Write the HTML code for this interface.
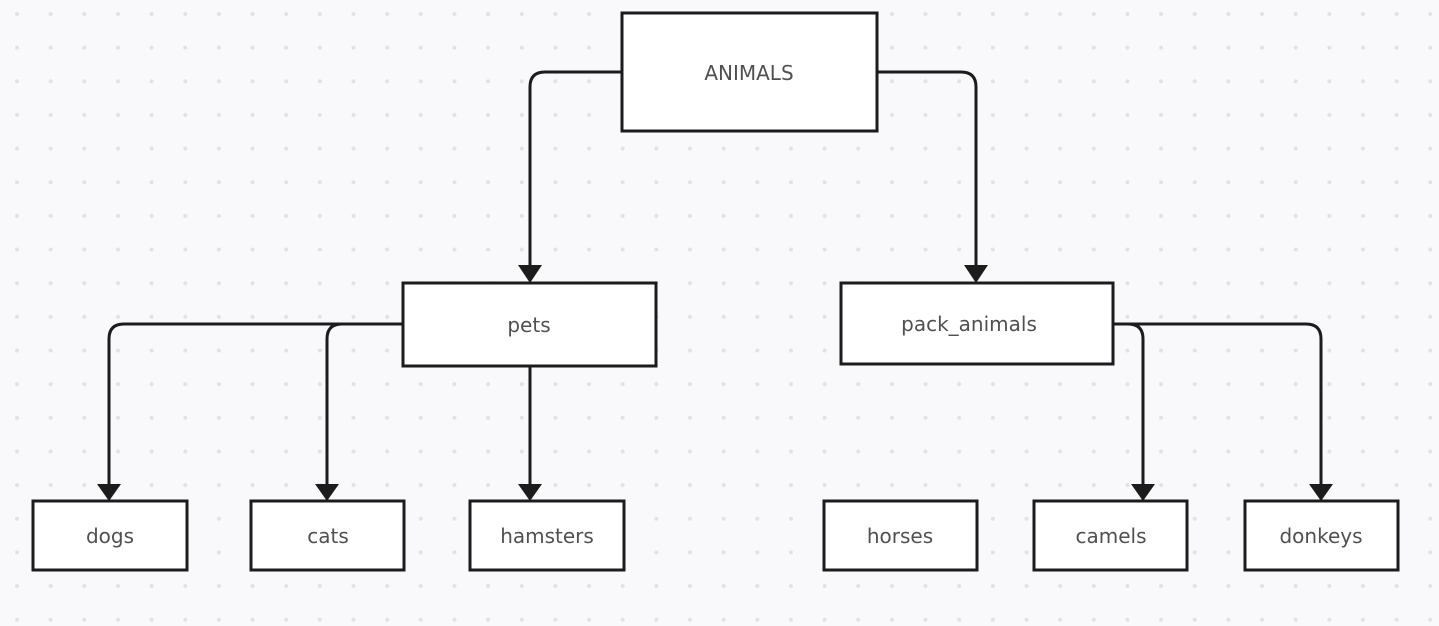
<!DOCTYPE html>
<html><head><style>
body{margin:0;background:#f9f9fb;}
svg{display:block}
text{font-family:"DejaVu Sans",sans-serif;font-size:20px;fill:#505050;text-anchor:middle;dominant-baseline:central}
</style></head><body>
<svg width="1439" height="626" viewBox="0 0 1439 626" xmlns="http://www.w3.org/2000/svg">
<defs>
<pattern id="d" x="0" y="0" width="33.65" height="33.65" patternUnits="userSpaceOnUse" patternTransform="translate(17,14)">
<circle cx="0" cy="0" r="2" fill="#e2e2e6"/><circle cx="33.65" cy="0" r="2" fill="#e2e2e6"/><circle cx="0" cy="33.65" r="2" fill="#e2e2e6"/><circle cx="33.65" cy="33.65" r="2" fill="#e2e2e6"/>
</pattern>
</defs>
<rect width="1439" height="626" fill="url(#d)"/>
<g fill="none" stroke="#1c1c1c" stroke-width="3">
<path d="M622 72 H545 Q530 72 530 87 V268"/>
<path d="M877 72 H961 Q976 72 976 87 V268"/>
<path d="M403 324 H124 Q109 324 109 339 V486"/>
<path d="M403 324 H342 Q327 324 327 339 V486"/>
<path d="M530 366 V486"/>
<path d="M1113 324 H1128 Q1143 324 1143 339 V486"/>
<path d="M1113 324 H1306 Q1321 324 1321 339 V486"/>
</g>
<g fill="#1c1c1c">
<path d="M518 265 H542 L530 283 Z"/>
<path d="M964 265 H988 L976 283 Z"/>
<path d="M97 484 H121 L109 501 Z"/>
<path d="M315 484 H339 L327 501 Z"/>
<path d="M518 484 H542 L530 501 Z"/>
<path d="M1131 484 H1155 L1143 501 Z"/>
<path d="M1309 484 H1333 L1321 501 Z"/>
</g>
<g fill="#fff" stroke="#1c1c1c" stroke-width="3">
<rect x="622" y="13" width="255" height="118"/>
<rect x="403" y="283" width="253" height="83"/>
<rect x="841" y="283" width="272" height="81"/>
<rect x="33" y="501" width="154" height="69"/>
<rect x="251" y="501" width="153" height="69"/>
<rect x="470" y="501" width="154" height="69"/>
<rect x="824" y="501" width="153" height="69"/>
<rect x="1034" y="501" width="153" height="69"/>
<rect x="1245" y="501" width="153" height="69"/>
</g>
<text x="749" y="73">ANIMALS</text>
<text x="529" y="325">pets</text>
<text x="969" y="324">pack_animals</text>
<text x="110" y="536">dogs</text>
<text x="328" y="536">cats</text>
<text x="547" y="536">hamsters</text>
<text x="900" y="536">horses</text>
<text x="1111" y="536">camels</text>
<text x="1321" y="536">donkeys</text>
</svg>
</body></html>
